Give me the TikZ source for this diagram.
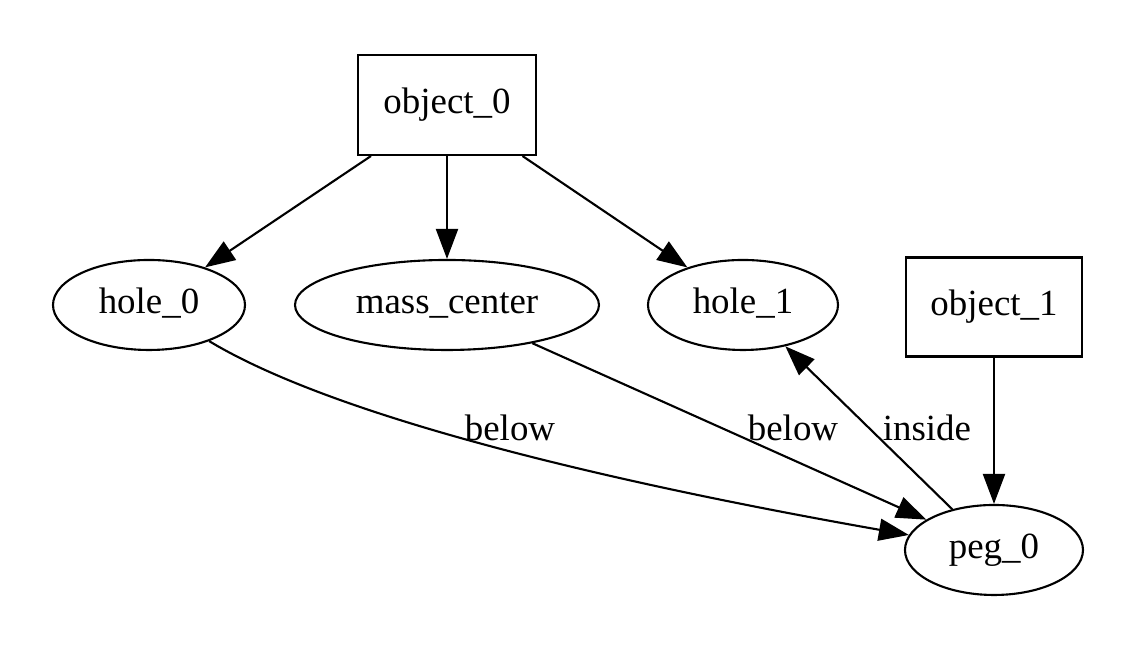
\documentclass[tikz,border=0pt]{standalone}
\usepackage{fontspec}
\setmainfont{Liberation Serif}
\usetikzlibrary{arrows.meta,shapes.geometric}

\begin{document}
\begin{tikzpicture}[
    objbox/.style={rectangle,draw=black,line width=0.6pt,minimum width=1.78cm,minimum height=1.0cm,inner sep=0pt,text height=0.72em,text depth=0.22em,font=\fontsize{10.5}{12}\selectfont},
    part/.style={ellipse,draw=black,line width=0.6pt,minimum height=0.9cm,inner sep=0pt,text height=0.72em,text depth=0.22em,font=\fontsize{10.5}{12}\selectfont},
    arrow/.style={-{Triangle[length=0.3cm,width=0.22cm]},line width=0.6pt},
    labelstyle/.style={font=\fontsize{10.5}{12}\selectfont}
]
\useasboundingbox (0,0) rectangle (11.39,6.56);

\node[objbox] (object_0) at (4.47,5.51) {object\_0};
\node[part,minimum width=1.92cm] (hole_0) at (1.49,3.51) {hole\_0};
\node[part,minimum width=3.04cm] (mass_center) at (4.47,3.51) {mass\_center};
\node[part,minimum width=1.90cm] (hole_1) at (7.43,3.51) {hole\_1};
\node[objbox,minimum width=1.76cm,minimum height=0.99cm] (object_1) at (9.94,3.49) {object\_1};
\node[part,minimum width=1.78cm] (peg_0) at (9.94,1.06) {peg\_0};

\draw[arrow] (object_0) -- (hole_0);
\draw[arrow] (object_0) -- (mass_center);
\draw[arrow] (object_0) -- (hole_1);
\draw[arrow] (object_1) -- (peg_0);
\draw[arrow] (hole_0.-31) .. controls +(-31:1.5) and +(170:3) .. (peg_0.170);
\draw[arrow] (mass_center) -- (peg_0);
\draw[arrow] (peg_0) -- (hole_1);

\node[labelstyle] (lbl_hole) at (5.10,2.28) {below};
\node[labelstyle] (lbl_mass) at (7.93,2.28) {below};
\node[labelstyle] (lbl_peg) at (9.27,2.28) {inside};

\end{tikzpicture}
\end{document}
